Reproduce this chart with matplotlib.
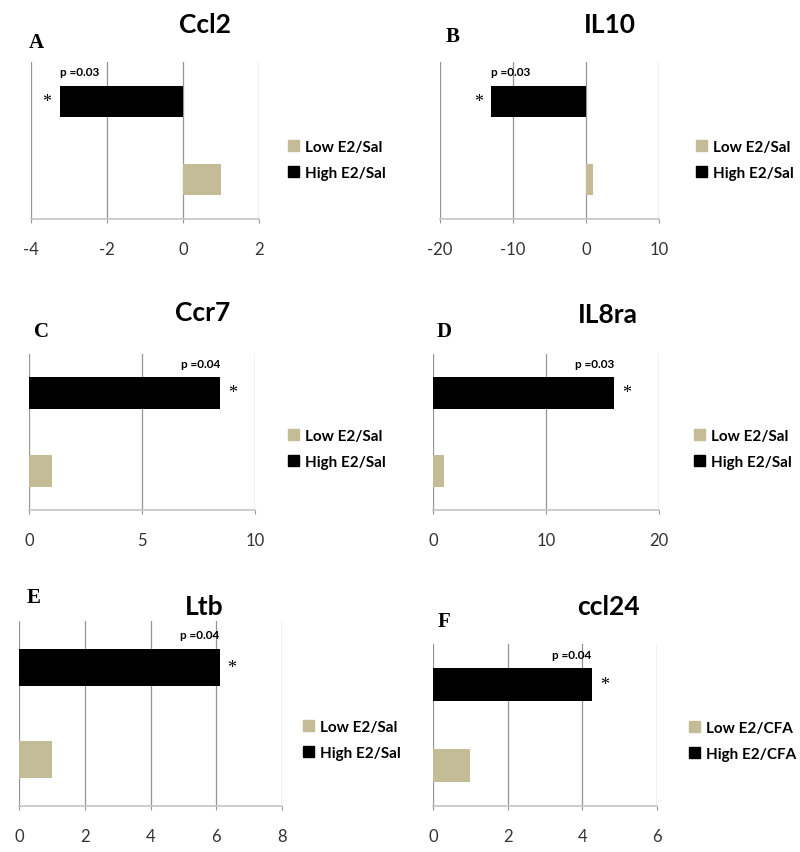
import numpy as np
import matplotlib
import matplotlib.pyplot as plt
from matplotlib.patches import Patch

matplotlib.use('Agg')

# data
genes = ['Ccl2', 'IL10', 'Ccr7', 'IL8ra', 'Ltb', 'ccl24']
letters = ['A', 'B', 'C', 'D', 'E', 'F']
low_vals = [1.0, 1.0, 1.0, 1.0, 1.0, 1.0]
high_vals = [-3.25, -13.0, 8.45, 16.0, 6.1, 4.25]
p_labels = ['p =0.03', 'p =0.03', 'p =0.04', 'p =0.03', 'p =0.04', 'p =0.04']
group_low = ['Low E2/Sal'] * 5 + ['Low E2/CFA']
group_high = ['High E2/Sal'] * 5 + ['High E2/CFA']
x_limits = [(-4, 2), (-20, 10), (0, 10), (0, 20), (0, 8), (0, 6)]
x_steps = [2, 10, 5, 10, 2, 2]

TAN = '#C4BC96'
GRID = '#959595'
AXIS = '#C4C4C4'
W, H = 800, 853

# panel layout in pixels: left, right, top, bottom
boxes = [(31, 259, 63, 220), (440, 659, 63, 220),
         (29, 255, 355, 511), (433, 659, 355, 511),
         (19, 282, 622, 807), (433, 657, 645, 807)]
title_xy = [(205, 25), (610, 25), (203, 313), (608, 315), (204, 607), (608, 607)]
letter_xy = [(29, 43), (446, 37), (34, 332), (437, 332), (27, 598), (438, 622)]
legend_xy = [(288, 161), (696, 161), (288, 450), (694, 450), (303, 741), (689, 742)]

fig = plt.figure(figsize=(W / 100, H / 100), dpi=100)

for i in range(6):
    l, r, t, b = boxes[i]
    ax = fig.add_axes([l / W, 1 - b / H, (r - l) / W, (b - t) / H])
    ax.barh(1, high_vals[i], height=0.4, color='black')
    ax.barh(0, low_vals[i], height=0.4, color=TAN)
    x0, x1 = x_limits[i]
    ax.set_xlim(x0, x1)
    ax.set_ylim(-0.5, 1.5)
    ticks = np.arange(x0, x1 + x_steps[i] / 2, x_steps[i])
    ax.set_xticks(ticks)
    ax.set_xticklabels(['{:g}'.format(v) for v in ticks], fontfamily='Lato',
                       fontsize=12, color='#333333')
    ax.set_yticks([])
    for v in ticks:
        ax.axvline(v, color=GRID, lw=0.9, zorder=0)
    for s in ['top', 'left', 'right']:
        ax.spines[s].set_visible(False)
    ax.spines['bottom'].set_color(AXIS)
    ax.spines['bottom'].set_linewidth(1.2)
    ax.tick_params(axis='x', length=3, color=GRID, pad=13)

    hv = high_vals[i]
    side = -1 if hv < 0 else 1
    ax.annotate(p_labels[i], (hv, 1.2), xytext=(0, 6), textcoords='offset points',
                ha='left' if hv < 0 else 'right', va='bottom', fontsize=8.5,
                fontweight='bold', fontfamily='Lato')
    ax.annotate('*', (hv, 1.0), xytext=(side * 9, 0), textcoords='offset points',
                ha='center', va='center', fontsize=13, fontfamily='Liberation Serif')

    tx, ty = title_xy[i]
    fig.text(tx / W, 1 - ty / H, genes[i], ha='center', va='center', fontsize=19,
             fontweight='bold', fontfamily='Lato')
    lx, ly = letter_xy[i]
    fig.text(lx / W, 1 - ly / H, letters[i], ha='left', va='center', fontsize=15,
             fontweight='bold', fontfamily='Liberation Serif')

    handles = [Patch(color=TAN), Patch(color='black')]
    gx, gy = legend_xy[i]
    ax.legend(handles, [group_low[i], group_high[i]], loc='center left',
              bbox_to_anchor=(gx / W, 1 - gy / H), bbox_transform=fig.transFigure,
              frameon=False, handlelength=0.7, handleheight=0.7, handletextpad=0.4,
              labelspacing=0.8, borderpad=0, borderaxespad=0,
              prop={'family': 'Lato', 'weight': 'bold', 'size': 11})

fig.savefig('out.png', dpi=100)
